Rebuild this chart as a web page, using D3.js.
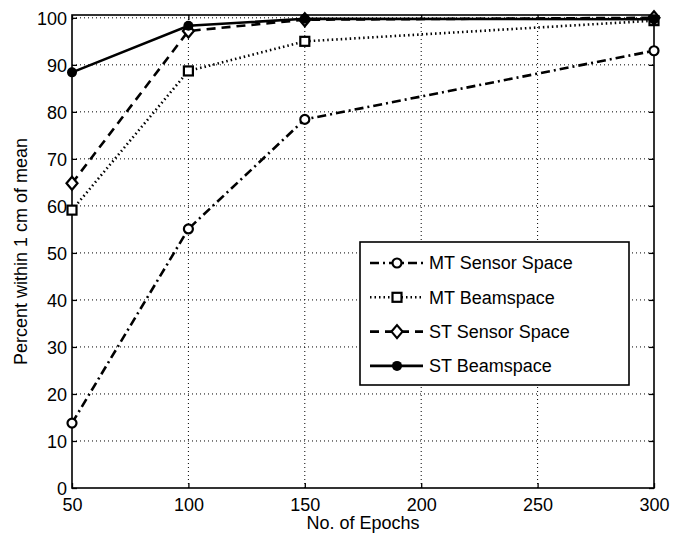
<!DOCTYPE html>
<html lang="en">
<head>
<meta charset="UTF-8">
<script src="https://d3js.org/d3.v7.min.js"></script>
<style>
  body { margin: 0; background: #fff; }
  text { font-family: "Liberation Sans", Arial, sans-serif; fill: #000; }
</style>
<title>Percent within 1 cm of mean</title>
</head>
<body>
<div id="chart"></div>
<script>

// data
var epochs = [50, 100, 150, 300];
var mtSensor = [13.8, 55.1, 78.4, 93.0];
var mtBeam   = [59.1, 88.7, 95.0, 99.4];
var stSensor = [64.8, 97.2, 99.6, 100];
var stBeam   = [88.4, 98.3, 99.8, 99.7];
var seriesNames = ["MT Sensor Space", "MT Beamspace", "ST Sensor Space", "ST Beamspace"];
var xTicks = [50, 100, 150, 200, 250, 300];
var yTicks = [0, 10, 20, 30, 40, 50, 60, 70, 80, 90, 100];

var W = 683, H = 535;
var margin = {top: 15, right: 29, bottom: 47, left: 72},
    width = W - margin.left - margin.right,
    height = H - margin.top - margin.bottom;

var svg = d3.select("#chart").append("svg")
    .attr("width", W).attr("height", H);
var g = svg.append("g")
    .attr("transform", "translate(" + margin.left + "," + margin.top + ")");

var x = d3.scaleLinear().domain([50, 300]).range([0, width]);
var y = d3.scaleLinear().domain([0, 100.6]).range([height, 0]);

// grid
g.append("g").selectAll("line").data(xTicks.slice(1, -1)).enter().append("line")
  .attr("x1", function(d) { return x(d); }).attr("x2", function(d) { return x(d); })
  .attr("y1", 0).attr("y2", height)
  .attr("stroke", "#000").attr("stroke-width", 1).attr("stroke-dasharray", "1,3");
g.append("g").selectAll("line").data(yTicks.slice(1)).enter().append("line")
  .attr("y1", function(d) { return y(d); }).attr("y2", function(d) { return y(d); })
  .attr("x1", 0).attr("x2", width)
  .attr("stroke", "#000").attr("stroke-width", 1).attr("stroke-dasharray", "1,3");

// axes (ticks inward)
var xAxis = g.append("g").attr("transform", "translate(0," + height + ")")
  .call(d3.axisBottom(x).tickValues(xTicks).tickSizeInner(-5).tickSizeOuter(0).tickPadding(10));
var xTop = g.append("g")
  .call(d3.axisTop(x).tickValues(xTicks).tickSizeInner(-5).tickSizeOuter(0).tickFormat(""));
var yAxis = g.append("g")
  .call(d3.axisLeft(y).tickValues(yTicks).tickSizeInner(-5).tickSizeOuter(0).tickPadding(5));
var yRight = g.append("g").attr("transform", "translate(" + width + ",0)")
  .call(d3.axisRight(y).tickValues(yTicks).tickSizeInner(-5).tickSizeOuter(0).tickFormat(""));
[xAxis, xTop, yAxis, yRight].forEach(function(a) {
  a.select(".domain").remove();
  a.selectAll("line").attr("stroke", "#000").attr("stroke-width", 1.3);
  a.selectAll("text").style("font-size", "18px").attr("fill", "#000")
    .style("font-family", "'Liberation Sans', Arial, sans-serif");
});
yAxis.selectAll("text").attr("dy", "0.36em");

g.append("rect").attr("width", width).attr("height", height)
  .attr("fill", "none").attr("stroke", "#000").attr("stroke-width", 1.6);

// series
var series = [
  {name: seriesNames[0], values: mtSensor, dash: "9,4,2,4", marker: "circle"},
  {name: seriesNames[1], values: mtBeam,   dash: "1.5,3",   marker: "square"},
  {name: seriesNames[2], values: stSensor, dash: "9,6",     marker: "diamond"},
  {name: seriesNames[3], values: stBeam,   dash: null,      marker: "dot"}
];

var line = d3.line()
  .x(function(d) { return x(d[0]); })
  .y(function(d) { return y(d[1]); });

function drawMarker(sel, type) {
  if (type === "circle") {
    sel.append("circle").attr("r", 4.5).attr("fill", "#fff").attr("stroke", "#000").attr("stroke-width", 2.2);
  } else if (type === "square") {
    sel.append("rect").attr("x", -4.5).attr("y", -4.5).attr("width", 9).attr("height", 9)
      .attr("fill", "#fff").attr("stroke", "#000").attr("stroke-width", 2.2);
  } else if (type === "diamond") {
    sel.append("path").attr("d", "M0,-6.5L5.5,0L0,6.5L-5.5,0Z")
      .attr("fill", "#fff").attr("stroke", "#000").attr("stroke-width", 2.2);
  } else {
    sel.append("circle").attr("r", 5).attr("fill", "#000");
  }
}

series.forEach(function(s) {
  var pts = epochs.map(function(e, i) { return [e, s.values[i]]; });
  g.append("path").datum(pts).attr("d", line)
    .attr("fill", "none").attr("stroke", "#000").attr("stroke-width", 2.6)
    .attr("stroke-dasharray", s.dash);
  pts.forEach(function(p) {
    var m = g.append("g").attr("transform", "translate(" + x(p[0]) + "," + y(p[1]) + ")");
    drawMarker(m, s.marker);
  });
});

// legend
var lg = svg.append("g").attr("transform", "translate(360,242)");
lg.append("rect").attr("width", 269).attr("height", 143)
  .attr("fill", "#fff").attr("stroke", "#000").attr("stroke-width", 1.6);
series.forEach(function(s, i) {
  var row = lg.append("g").attr("transform", "translate(0," + (21 + i * 34.3) + ")");
  row.append("line").attr("x1", 10).attr("x2", 63).attr("y1", 0).attr("y2", 0)
    .attr("stroke", "#000").attr("stroke-width", 2.6).attr("stroke-dasharray", s.dash);
  var m = row.append("g").attr("transform", "translate(37,0)");
  drawMarker(m, s.marker);
  row.append("text").attr("x", 69).attr("dy", "0.36em")
    .style("font-size", "18px").text(s.name);
});

// axis labels
svg.append("text").attr("x", margin.left + width / 2).attr("y", 529)
  .attr("text-anchor", "middle").style("font-size", "18px").text("No. of Epochs");
svg.append("text")
  .attr("transform", "translate(27," + (margin.top + height / 2) + ")rotate(-90)")
  .attr("text-anchor", "middle").style("font-size", "18px").text("Percent within 1 cm of mean");

</script>
</body>
</html>
